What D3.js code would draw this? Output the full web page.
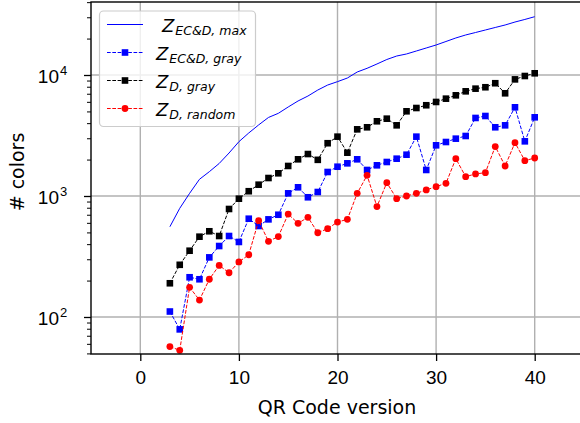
<!DOCTYPE html>
<html lang="en">
    <head>
        <meta charset="utf-8">
        <style type="text/css">
            body { margin: 0; background: #fff; }
            svg { display: block; overflow: hidden; font-family: "DejaVu Sans", sans-serif; }
            .grid line { stroke: #b0b0b0; stroke-width: 1.4px; }
            .tick text { font-size: 19px; fill: #000; }
        </style>
    </head>
    <body>
        <svg width="580" height="423"></svg>

        <script src="https://d3js.org/d3.v7.min.js"></script>
        <script>
            // QR code versions 3..40
            var versions = d3.range(3, 41);

            var zEcdMax = [557, 791, 1052, 1374, 1588, 1857, 2266, 2810, 3318, 3865,
                4457, 4822, 5440, 6100, 6700, 7510, 8260, 8810, 9440, 10590,
                11360, 12330, 13430, 14350, 14920, 15790, 16720, 17700, 18920, 20230,
                21420, 22450, 23550, 24700, 25900, 27400, 28770, 30330];

            var zEcdGray = [111, 79, 213, 205, 311, 386, 467, 417, 649, 565,
                641, 700, 1052, 1180, 976, 1079, 1579, 1746, 1862, 2010,
                1641, 1793, 1910, 2034, 2194, 3093, 1641, 2624, 2794, 2977,
                3133, 4415, 4583, 3697, 3838, 5408, 2830, 4470];

            var zDGray = [190, 270, 353, 461, 511, 467, 781, 950, 1095, 1240,
                1408, 1540, 1771, 2010, 2222, 1990, 2730, 3093, 2280, 3556,
                3697, 4144, 4355, 3838, 5012, 5336, 5623, 5986, 6373, 6793,
                7330, 7710, 7920, 8550, 7060, 9200, 9810, 10330];

            var zDRandom = [57, 53, 176, 138, 205, 267, 232, 285, 327, 625,
                422, 462, 709, 594, 667, 497, 537, 609, 641, 1052,
                1483, 817, 1288, 950, 1000, 1052, 1122, 1195, 1273, 2034,
                1445, 1521, 1560, 2563, 1770, 2758, 1960, 2060];

            var xTicks = [0, 10, 20, 30, 40];
            var yTicks = [100, 1000, 10000];

            var series = [
                {name: "max", sub: "EC&D, max", values: zEcdMax, color: "#0000ff", dash: null, marker: null, shift: 6},
                {name: "ecdgray", sub: "EC&D, gray", values: zEcdGray, color: "#0000ff", dash: "3.7,1.6", marker: "square", shift: 0},
                {name: "dgray", sub: "D, gray", values: zDGray, color: "#000000", dash: "3.7,1.6", marker: "square", shift: 0},
                {name: "drandom", sub: "D, random", values: zDRandom, color: "#ff0000", dash: "3.7,1.6", marker: "circle", shift: 0}
            ];

            var svg = d3.select("svg"),
                pLeft = 91, pRight = 584, pTop = 2, pBottom = 354;

            var x = d3.scaleLinear().domain([-5, 45]).range([pLeft, pRight]);
            var y = d3.scaleLog().domain([49.45, 40114]).range([pBottom, pTop]);

            svg.append("defs").append("clipPath").attr("id", "plotclip")
                .append("rect")
                .attr("x", pLeft).attr("y", pTop)
                .attr("width", pRight - pLeft).attr("height", pBottom - pTop);

            // grid
            var grid = svg.append("g").attr("class", "grid");
            grid.selectAll(".gx").data(xTicks).enter().append("line")
                .attr("x1", function (d) {return x(d);}).attr("x2", function (d) {return x(d);})
                .attr("y1", pTop).attr("y2", pBottom);
            grid.selectAll(".gy").data(yTicks).enter().append("line")
                .attr("y1", function (d) {return y(d);}).attr("y2", function (d) {return y(d);})
                .attr("x1", pLeft).attr("x2", pRight);

            // series
            var plot = svg.append("g").attr("clip-path", "url(#plotclip)");
            var line = d3.line()
                .x(function (d, i) {return x(versions[i]);})
                .y(function (d) {return y(d);});

            series.forEach(function (s) {
                var g = plot.append("g").attr("class", s.name);
                g.append("path")
                    .datum(s.values)
                    .attr("d", line)
                    .attr("fill", "none")
                    .attr("stroke", s.color)
                    .attr("stroke-width", 1)
                    .attr("stroke-dasharray", s.dash);
                if (s.marker === "square") {
                    g.selectAll("rect").data(s.values).enter().append("rect")
                        .attr("x", function (d, i) {return x(versions[i]) - 3.3;})
                        .attr("y", function (d) {return y(d) - 3.3;})
                        .attr("width", 6.6).attr("height", 6.6)
                        .attr("fill", s.color);
                } else if (s.marker === "circle") {
                    g.selectAll("circle").data(s.values).enter().append("circle")
                        .attr("cx", function (d, i) {return x(versions[i]);})
                        .attr("cy", function (d) {return y(d);})
                        .attr("r", 3.4)
                        .attr("fill", s.color);
                }
            });

            // axes
            var xAxis = d3.axisBottom(x).tickValues(xTicks).tickSize(7).tickPadding(5);
            var gx = svg.append("g").attr("transform", "translate(0," + pBottom + ")").call(xAxis);
            gx.select(".domain").remove();
            gx.selectAll(".tick line").attr("stroke", "#000").attr("stroke-width", 1.3);
            gx.selectAll(".tick text").attr("dy", "0.95em");

            var minor = [];
            [10, 100, 1000, 10000].forEach(function (b) {
                for (var k = 2; k <= 9; k++) {
                    var v = b * k;
                    if (v >= 49.45 && v <= 40114) minor.push(v);
                }
            });
            var gyMinor = svg.append("g").attr("transform", "translate(" + pLeft + ",0)")
                .call(d3.axisLeft(y).tickValues(minor).tickSize(4).tickFormat(""));
            gyMinor.select(".domain").remove();
            gyMinor.selectAll(".tick line").attr("stroke", "#000").attr("stroke-width", 1);

            var gy = svg.append("g").attr("transform", "translate(" + pLeft + ",0)")
                .call(d3.axisLeft(y).tickValues(yTicks).tickSize(7).tickFormat(""));
            gy.select(".domain").remove();
            gy.selectAll(".tick line").attr("stroke", "#000").attr("stroke-width", 1.3);
            gy.selectAll(".tick").append("text")
                .attr("x", -32).attr("y", 8)
                .attr("text-anchor", "end")
                .style("font-size", "19px")
                .text("10");
            gy.selectAll(".tick").append("text")
                .attr("x", -31).attr("y", 0)
                .attr("text-anchor", "start")
                .style("font-size", "13px")
                .text(function (d) {return Math.round(Math.log10(d));});

            // spines
            svg.append("rect")
                .attr("x", pLeft).attr("y", pTop)
                .attr("width", pRight - pLeft).attr("height", pBottom - pTop)
                .attr("fill", "none").attr("stroke", "#000").attr("stroke-width", 1.4);

            // labels
            svg.append("text")
                .attr("x", 337).attr("y", 414)
                .attr("text-anchor", "middle")
                .style("font-size", "19px")
                .text("QR Code version");
            svg.append("text")
                .attr("transform", "translate(24,172) rotate(-90)")
                .attr("text-anchor", "middle")
                .style("font-size", "19px")
                .text("# colors");

            // legend
            var legend = svg.append("g");
            legend.append("rect")
                .attr("x", 99.5).attr("y", 11)
                .attr("width", 156).attr("height", 115.5)
                .attr("rx", 4)
                .attr("fill", "#fff").attr("fill-opacity", 0.8)
                .attr("stroke", "#cccccc").attr("stroke-width", 1.2);

            series.forEach(function (s, i) {
                var cy = 24.5 + i * 28;
                var g = legend.append("g");
                g.append("line")
                    .attr("x1", 107).attr("x2", 143)
                    .attr("y1", cy).attr("y2", cy)
                    .attr("stroke", s.color).attr("stroke-width", 1)
                    .attr("stroke-dasharray", s.dash);
                if (s.marker === "square") {
                    g.append("rect").attr("x", 125 - 3.3).attr("y", cy - 3.3)
                        .attr("width", 6.6).attr("height", 6.6).attr("fill", s.color);
                } else if (s.marker === "circle") {
                    g.append("circle").attr("cx", 125).attr("cy", cy).attr("r", 3.4).attr("fill", s.color);
                }
                var t = g.append("text")
                    .attr("x", 156 + s.shift).attr("y", cy + 7)
                    .style("font-style", "italic");
                t.append("tspan").style("font-size", "18px").text("Z");
                t.append("tspan").attr("dy", 3).attr("dx", 1).style("font-size", "12.5px").text(s.sub);
            });
        </script>
    </body>
</html>
